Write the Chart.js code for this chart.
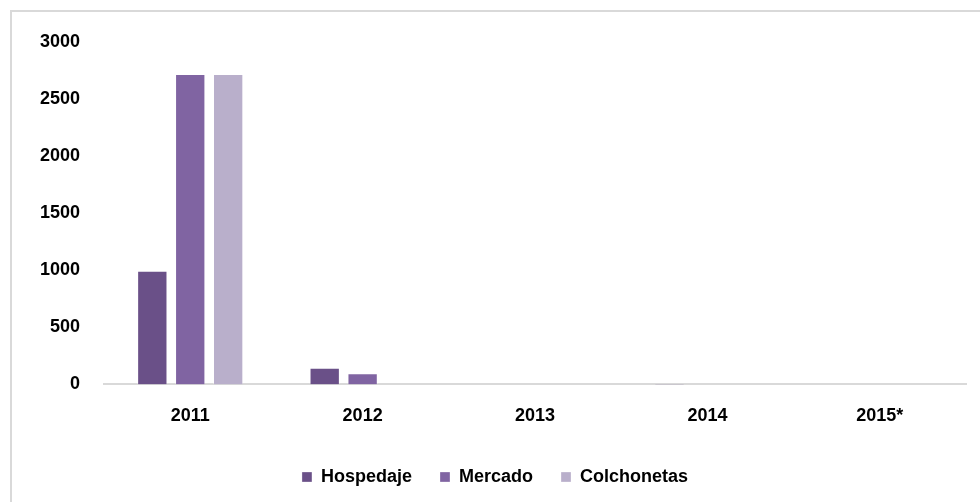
<!DOCTYPE html>
<html>
<head>
<meta charset="utf-8">
<script src="https://cdn.jsdelivr.net/npm/chart.js@4.4.1/dist/chart.umd.min.js"></script>
<style>
    html, body { margin: 0; padding: 0; background: #fff; }
    #wrap {
        position: relative;
        width: 980px;
        height: 502px;
        overflow: hidden;
    }
    #frame {
        position: absolute;
        left: 10px;
        top: 10px;
        width: 980px;
        height: 500px;
        border-left: 2px solid #d9d9d9;
        border-top: 2px solid #d9d9d9;
    }
    canvas { position: absolute; left: 0; top: 0; }
</style>
</head>
<body>
<div id="wrap">
    <div id="frame"></div>
    <canvas id="chart" width="980" height="502"></canvas>
</div>
<script>
// Years on the x axis
const years = ['2011', '2012', '2013', '2014', '2015*'];

// Series values
const hospedaje = [995, 145, 0, 5, 0];
const mercado = [2720, 97, 0, 0, 0];
const colchonetas = [2720, 0, 0, 0, 0];

const seriesNames = ['Hospedaje', 'Mercado', 'Colchonetas'];
const seriesColors = ['#6a5088', '#8064a2', '#b9afcb'];

const font = {
    family: "'Liberation Sans', Arial, sans-serif",
    size: 18,
    weight: 'bold'
};

const data = {
    labels: years,
    datasets: [hospedaje, mercado, colchonetas].map((values, i) => ({
        label: seriesNames[i],
        data: values,
        backgroundColor: seriesColors[i],
        borderColor: 'rgba(255,255,255,0.3)',
        borderWidth: 1,
        categoryPercentage: 0.66,
        barPercentage: 0.8
    }))
};

const options = {
    responsive: false,
    animation: false,
    layout: {
        padding: { left: 24, right: 14, top: 42, bottom: 6 }
    },
    scales: {
        x: {
            grid: { display: false },
            border: { display: true, color: '#d9d9d9', width: 2 },
            ticks: { color: '#000', font: font, padding: 13 }
        },
        y: {
            min: 0,
            max: 3000,
            grid: { display: false },
            border: { display: false },
            ticks: {
                stepSize: 500,
                color: '#000',
                font: font,
                padding: 16,
                callback: (value) => String(value)
            }
        }
    },
    plugins: {
        legend: {
            position: 'bottom',
            labels: {
                boxWidth: 10,
                boxHeight: 10,
                color: '#000',
                font: font,
                padding: 28
            }
        },
        tooltip: { enabled: false }
    }
};

new Chart(document.getElementById('chart'), {
    type: 'bar',
    data: data,
    options: options
});
</script>
</body>
</html>
